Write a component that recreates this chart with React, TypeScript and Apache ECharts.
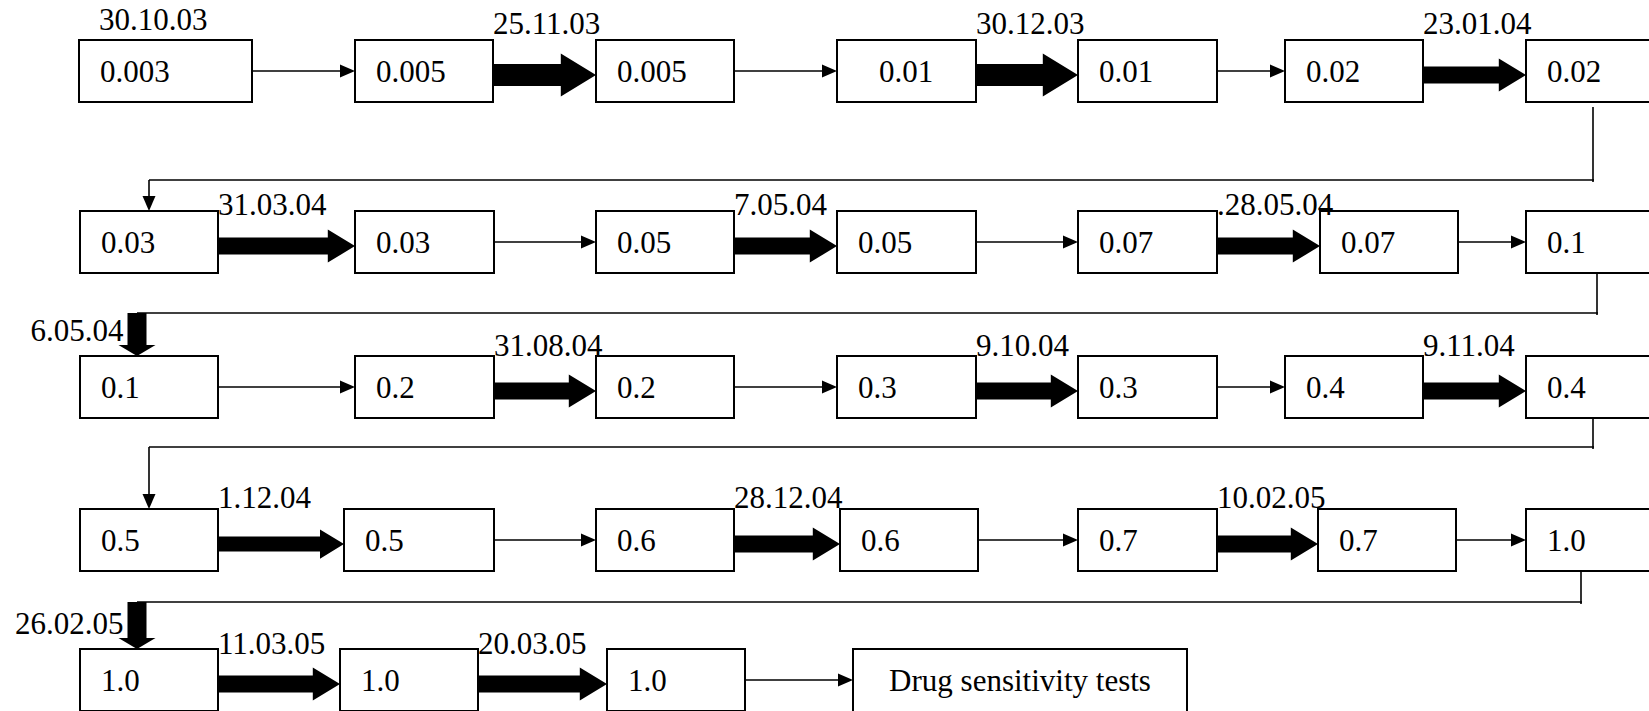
import React, { useEffect, useRef } from "react";
import * as echarts from "echarts";

const W = 1649;
const H = 711;

// ---------- data ----------
const startDate = "30.10.03";
const doses: string[][] = [
  ["0.003", "0.005", "0.005", "0.01", "0.01", "0.02", "0.02"],
  ["0.03", "0.03", "0.05", "0.05", "0.07", "0.07", "0.1"],
  ["0.1", "0.2", "0.2", "0.3", "0.3", "0.4", "0.4"],
  ["0.5", "0.5", "0.6", "0.6", "0.7", "0.7", "1.0"],
  ["1.0", "1.0", "1.0", "Drug sensitivity tests"],
];
const links: string[][] = [
  ["thin", "thick", "thin", "thick", "thin", "thick"],
  ["thick", "thin", "thick", "thin", "thick", "thin"],
  ["thin", "thick", "thin", "thick", "thin", "thick"],
  ["thick", "thin", "thick", "thin", "thick", "thin"],
  ["thick", "thick", "thin"],
];
const linkDates: string[][] = [
  ["", "25.11.03", "", "30.12.03", "", "23.01.04"],
  ["31.03.04", "", "7.05.04", "", ".28.05.04", ""],
  ["", "31.08.04", "", "9.10.04", "", "9.11.04"],
  ["1.12.04", "", "28.12.04", "", "10.02.05", ""],
  ["11.03.05", "20.03.05", ""],
];
const turnKinds = ["thin", "thick", "thin", "thick"];
const turnDates = ["", "6.05.04", "", "26.02.05"];

// ---------- layout ----------
const rowTop = [40, 211, 356, 509, 649];
const boxH = 62;
const boxLeft = [
  [79, 355, 596, 837, 1078, 1285, 1526],
  [80, 355, 596, 837, 1078, 1320, 1526],
  [80, 355, 596, 837, 1078, 1285, 1526],
  [80, 344, 596, 840, 1078, 1318, 1526],
  [80, 340, 607, 853],
];
const boxRight = [
  [252, 493, 734, 976, 1217, 1423, 1664],
  [218, 494, 734, 976, 1217, 1458, 1664],
  [218, 494, 734, 976, 1217, 1423, 1664],
  [218, 494, 734, 978, 1217, 1456, 1664],
  [218, 478, 745, 1187],
];
const textIndent = [
  [21, 21, 21, 42, 21, 21, 21],
  [21, 21, 21, 21, 21, 21, 21],
  [21, 21, 21, 21, 21, 21, 21],
  [21, 21, 21, 21, 21, 21, 21],
  [21, 21, 21, -1],
];
const rowLabelDy = [-6, 4, 0, -1, 5];
const thickSize = [
  [0, 22, 0, 22, 0, 17],
  [17, 0, 17, 0, 17, 0],
  [0, 17, 0, 17, 0, 17],
  [15, 0, 17, 0, 17, 0],
  [17, 17, 0],
];
const turnX = [1593, 1597, 1593, 1581];
const turnY = [180, 313, 447, 602];

const FS = 31;
const FONT = "Liberation Serif, Times New Roman, DejaVu Serif, serif";
const THIN_W = 1.6;
const BOX_W = 2;
const THIN_HL = 15;
const THIN_HH = 13;

type Item = { kind: string; [k: string]: any };

function buildItems(): Item[] {
  const boxes: Item[] = [];
  const marks: Item[] = [];
  const texts: Item[] = [];
  doses.forEach((row, r) => {
    const top = rowTop[r];
    const cy = top + boxH / 2;
    row.forEach((label, c) => {
      const l = boxLeft[r][c];
      const rt = boxRight[r][c];
      const h = r === 4 && c === 3 ? boxH + 1 : boxH;
      boxes.push({ kind: "box", x1: l, y1: top, x2: rt, y2: top + h });
      const ind = textIndent[r][c];
      if (ind < 0) {
        texts.push({ kind: "text", x: (l + rt) / 2, y: top + h / 2, text: label, align: "center" });
      } else {
        texts.push({ kind: "text", x: l + ind, y: cy, text: label, align: "left" });
      }
    });
    links[r].forEach((k, c) => {
      const x1 = boxRight[r][c];
      const x2 = boxLeft[r][c + 1];
      if (k === "thick") {
        marks.push({ kind: "thickH", x1, x2, y: cy + 4, s: thickSize[r][c] });
      } else {
        marks.push({ kind: "thinH", x1, x2, y: cy });
      }
      const d = linkDates[r][c];
      if (d) {
        texts.push({ kind: "text", x: x1, y: top + rowLabelDy[r] - 0.34 * FS, text: d, align: "left" });
      }
    });
  });
  texts.push({ kind: "text", x: boxLeft[0][0] + 20, y: 30 - 0.34 * FS, text: startDate, align: "left" });

  turnKinds.forEach((k, t) => {
    const srcRow = t;
    const dstRow = t + 1;
    const vx = turnX[t];
    const hy = turnY[t];
    const y0 = rowTop[srcRow] + boxH + (t === 0 ? 5 : 0);
    marks.push({ kind: "line", x1: vx, y1: y0, x2: vx, y2: hy + 2 });
    const dl = boxLeft[dstRow][0];
    const dr = boxRight[dstRow][0];
    const dTop = rowTop[dstRow];
    if (k === "thick") {
      const ex = (dl + dr) / 2 - 12;
      marks.push({ kind: "line", x1: ex, y1: hy, x2: vx + 1, y2: hy });
      marks.push({ kind: "thickV", x: ex, y1: hy, y2: dTop });
      const d = turnDates[t];
      if (d) {
        texts.push({ kind: "text", x: ex - 19 / 2 - 4, y: dTop - 15 - 0.34 * FS, text: d, align: "right" });
      }
    } else {
      const ex = (dl + dr) / 2;
      marks.push({ kind: "line", x1: ex, y1: hy, x2: vx + 1, y2: hy });
      marks.push({ kind: "thinV", x: ex, y1: hy, y2: dTop });
    }
  });
  return [...boxes, ...marks, ...texts];
}

const items = buildItems();

export default function App() {
  const ref = useRef<HTMLDivElement>(null);
  useEffect(() => {
    if (!ref.current) return;
    const chart = echarts.init(ref.current, undefined, { renderer: "svg" });
    const stroke = { stroke: "#000", lineWidth: THIN_W, fill: "none" };
    chart.setOption({
      animation: false,
      backgroundColor: "#fff",
      grid: { left: 0, right: 0, top: 0, bottom: 0, containLabel: false },
      xAxis: { type: "value", min: 0, max: W, show: false },
      yAxis: { type: "value", min: 0, max: H, inverse: true, show: false },
      series: [
        {
          type: "custom",
          coordinateSystem: "cartesian2d",
          silent: true,
          clip: false,
          encode: { x: 0, y: 1 },
          data: items.map(() => [0, 0]),
          renderItem: (params: any, api: any) => {
            const it = items[params.dataIndex];
            const p = (x: number, y: number) => api.coord([x, y]);
            if (it.kind === "box") {
              const a = p(it.x1, it.y1);
              const b = p(it.x2, it.y2);
              return {
                type: "rect",
                shape: { x: a[0], y: a[1], width: b[0] - a[0], height: b[1] - a[1] },
                style: { fill: "#fff", stroke: "#000", lineWidth: BOX_W },
              };
            }
            if (it.kind === "text") {
              const a = p(it.x, it.y);
              return {
                type: "text",
                x: a[0],
                y: a[1],
                style: {
                  text: it.text,
                  fontSize: FS,
                  fontFamily: FONT,
                  fill: "#000",
                  align: it.align,
                  verticalAlign: "middle",
                },
              };
            }
            if (it.kind === "line") {
              const a = p(it.x1, it.y1);
              const b = p(it.x2, it.y2);
              return { type: "line", shape: { x1: a[0], y1: a[1], x2: b[0], y2: b[1] }, style: stroke };
            }
            if (it.kind === "thinH") {
              const a = p(it.x1, it.y);
              const b = p(it.x2, it.y);
              return {
                type: "group",
                children: [
                  { type: "line", shape: { x1: a[0], y1: a[1], x2: b[0] - THIN_HL + 1, y2: b[1] }, style: stroke },
                  {
                    type: "polygon",
                    shape: { points: [[b[0] - THIN_HL, b[1] - THIN_HH / 2], [b[0], b[1]], [b[0] - THIN_HL, b[1] + THIN_HH / 2]] },
                    style: { fill: "#000" },
                  },
                ],
              };
            }
            if (it.kind === "thinV") {
              const a = p(it.x, it.y1);
              const b = p(it.x, it.y2);
              return {
                type: "group",
                children: [
                  { type: "line", shape: { x1: a[0], y1: a[1], x2: b[0], y2: b[1] - THIN_HL + 1 }, style: stroke },
                  {
                    type: "polygon",
                    shape: { points: [[b[0] - THIN_HH / 2, b[1] - THIN_HL], [b[0], b[1]], [b[0] + THIN_HH / 2, b[1] - THIN_HL]] },
                    style: { fill: "#000" },
                  },
                ],
              };
            }
            if (it.kind === "thickH") {
              const a = p(it.x1, it.y);
              const b = p(it.x2, it.y);
              const y = a[1];
              const s = it.s;
              const head = s * 1.95;
              const hl = s * 1.6;
              const hx = b[0] - hl;
              return {
                type: "polygon",
                shape: {
                  points: [
                    [a[0], y - s / 2],
                    [hx, y - s / 2],
                    [hx, y - head / 2],
                    [b[0], y],
                    [hx, y + head / 2],
                    [hx, y + s / 2],
                    [a[0], y + s / 2],
                  ],
                },
                style: { fill: "#000" },
              };
            }
            if (it.kind === "thickV") {
              const a = p(it.x, it.y1);
              const b = p(it.x, it.y2);
              const x = a[0];
              const sw = 19;
              const hw = 37;
              const hy = b[1] - 11;
              return {
                type: "polygon",
                shape: {
                  points: [
                    [x - sw / 2, a[1]],
                    [x + sw / 2, a[1]],
                    [x + sw / 2, hy],
                    [x + hw / 2, hy],
                    [x, b[1]],
                    [x - hw / 2, hy],
                    [x - sw / 2, hy],
                  ],
                },
                style: { fill: "#000" },
              };
            }
            return null;
          },
        },
      ],
    });
    return () => chart.dispose();
  }, []);
  return (
    <div
      ref={ref}
      style={{ position: "absolute", left: 0, top: 0, width: W, height: H, background: "#fff" }}
    />
  );
}
